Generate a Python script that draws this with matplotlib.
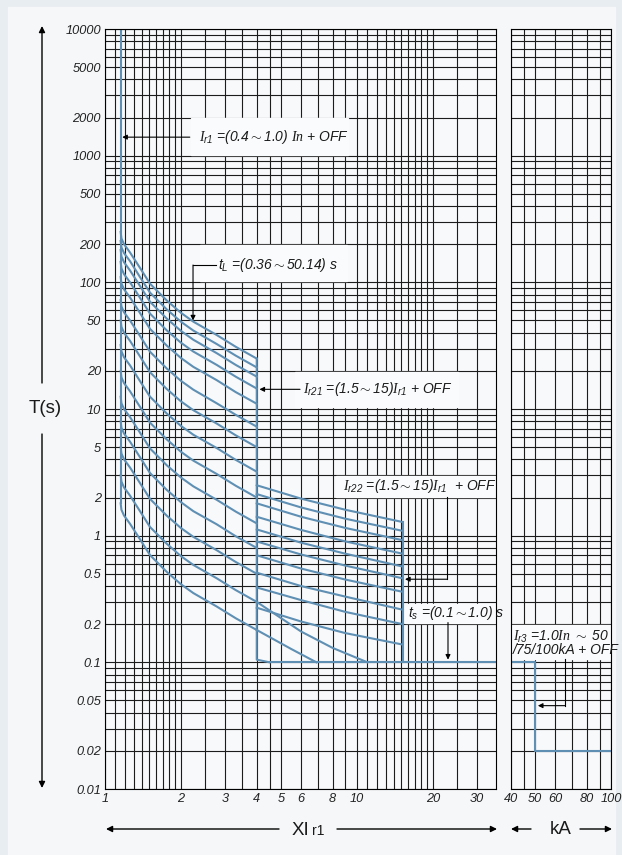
import matplotlib.pyplot as plt
from matplotlib import font_manager
from matplotlib.patches import Rectangle
from matplotlib.ticker import NullFormatter

installed = {f.name for f in font_manager.fontManager.ttflist}
SANS = 'Liberation Sans' if 'Liberation Sans' in installed else 'DejaVu Sans'
SERIF = 'Liberation Serif' if 'Liberation Serif' in installed else 'DejaVu Serif'

plt.rcParams['mathtext.fontset'] = 'custom'
plt.rcParams['mathtext.it'] = SERIF + ':italic'
plt.rcParams['mathtext.rm'] = SANS + ':italic'

BLUE = '#5f8fb3'
GRID = '#1c1c1c'

# axes ticks / grid
y_ticks = [0.01, 0.02, 0.05, 0.1, 0.2, 0.5, 1, 2, 5, 10, 20, 50, 100, 200, 500, 1000, 2000, 5000, 10000]
y_labels = ['0.01', '0.02', '0.05', '0.1', '0.2', '0.5', '1', '2', '5', '10', '20', '50',
            '100', '200', '500', '1000', '2000', '5000', '10000']
y_grid = [m * 10.0 ** e for e in range(-2, 4) for m in range(1, 10)] + [10000]
x_ticks = [1, 2, 3, 4, 5, 6, 8, 10, 20, 30]
x_grid = [1.0, 1.1, 1.2, 1.3, 1.4, 1.5, 1.6, 1.7, 1.8, 1.9, 2.0, 2.5, 3, 3.5, 4, 4.5,
          5, 6, 7, 8, 9, 10, 11, 12, 13, 14, 15, 16, 17, 18, 19, 20, 25, 30]
ka_ticks = [40, 50, 60, 80, 100]
ka_grid = [40, 45, 50, 60, 70, 80, 90, 100]

# Ir1 pickup line
ir1_x = [1.154, 1.154]
ir1_t = [10000, 1.8]

# long time delay curves (tL family)
lt_x = [1.154, 1.162, 1.19, 1.257, 1.377, 1.509, 1.757, 2.0, 2.242, 2.774, 3.3, 4.0]
lt_t = [
    [250, 222, 200, 172, 130, 97.5, 72, 57.5, 48.9, 38.4, 31, 25],
    [212, 189, 170, 147, 110, 82.9, 61.2, 48.9, 41.6, 32.6, 26.4, 21.3],
    [180, 160, 144, 124, 93.6, 70.2, 51.8, 41.4, 35.2, 27.6, 22.3, 18],
    [145, 129, 116, 100, 75.4, 56.6, 41.8, 33.4, 28.4, 22.3, 18, 14.5],
    [110, 97.9, 88, 75.9, 57.2, 42.9, 31.7, 25.3, 21.5, 16.9, 13.6, 11],
    [72.5, 64.5, 58, 50, 37.7, 28.3, 20.9, 16.7, 14.2, 11.1, 9.0, 7.25],
    [50, 44.5, 40, 34.5, 26, 19.5, 14.4, 11.5, 9.78, 7.68, 6.2, 5.0],
    [32, 28.5, 25.6, 22.1, 16.6, 12.5, 9.22, 7.36, 6.26, 4.92, 3.97, 3.2],
    [20, 17.8, 16, 13.8, 10.4, 7.8, 5.76, 4.6, 3.91, 3.07, 2.48, 2.0],
    [12.5, 11.1, 10, 8.63, 6.5, 4.88, 3.6, 2.88, 2.45, 1.92, 1.55, 1.25],
    [8.0, 7.12, 6.4, 5.52, 4.16, 3.12, 2.3, 1.84, 1.56, 1.23, 0.99, 0.8],
    [5.0, 4.45, 4.0, 3.45, 2.6, 1.95, 1.44, 1.15, 0.978, 0.768, 0.62, 0.5],
    [3.0, 2.67, 2.4, 2.07, 1.56, 1.17, 0.864, 0.69, 0.587, 0.461, 0.372, 0.3],
    [1.8, 1.6, 1.44, 1.24, 0.936, 0.702, 0.518, 0.414, 0.352, 0.276, 0.223, 0.18],
]
lt_tail_x = [[4, 6, 8, 11], [4, 5.5, 6.9]]
lt_tail_t = [[0.3, 0.175, 0.13, 0.1], [0.18, 0.127, 0.1]]

# Ir21 step
ir21_x = [4, 4, 4.5]
ir21_t = [25, 0.105, 0.1]

# short time curves between Ir21 and Ir22
st_x = [4, 6, 9, 15.2]
st_t = [
    [2.5, 1.96, 1.60, 1.28],
    [2.13, 1.67, 1.36, 1.09],
    [1.8, 1.41, 1.15, 0.92],
    [1.41, 1.11, 0.90, 0.72],
    [1.12, 0.88, 0.72, 0.57],
    [0.9, 0.71, 0.58, 0.46],
    [0.7, 0.55, 0.45, 0.36],
    [0.51, 0.40, 0.33, 0.26],
    [0.39, 0.31, 0.25, 0.20],
    [0.27, 0.21, 0.17, 0.138],
]

# Ir22 step and ts plateau
ir22_x = [15.2, 15.2]
ir22_t = [1.28, 0.1]
ts_x = [4.5, 40]
ts_t = [0.1, 0.1]

# instantaneous (kA panel)
ir3_x = [40, 50, 50, 100]
ir3_t = [0.1, 0.1, 0.02, 0.02]

fig = plt.figure(figsize=(6.22, 8.55), dpi=100)
fig.patch.set_facecolor('#e8edf1')

# background / decorations in pixel coordinates
bg = fig.add_axes([0, 0, 1, 1])
bg.set_xlim(0, 622)
bg.set_ylim(855, 0)
bg.axis('off')
bg.add_patch(Rectangle((8, 7), 607, 848, color='#f5f7f9', zorder=0))

ax = fig.add_axes([105 / 622, 1 - 789 / 855, 391 / 622, 760 / 855])
axk = fig.add_axes([510.7 / 622, 1 - 789 / 855, 100.8 / 622, 760 / 855])

for a, grid, ticks in ((ax, x_grid, x_ticks), (axk, ka_grid, ka_ticks)):
    a.set_xscale('log')
    a.set_yscale('log')
    a.set_ylim(0.01, 10000)
    a.set_facecolor('#f7f9fb')
    a.set_axisbelow(True)
    a.set_xticks(ticks, labels=[str(t) for t in ticks])
    a.set_xticks(grid, minor=True)
    a.set_yticks(y_ticks, labels=y_labels)
    a.set_yticks(y_grid, minor=True)
    a.xaxis.set_minor_formatter(NullFormatter())
    a.yaxis.set_minor_formatter(NullFormatter())
    a.tick_params(which='both', length=0, pad=3)
    a.grid(True, which='both', color=GRID, lw=0.8)
    for s in a.spines.values():
        s.set_color('black')
        s.set_linewidth(0.8)
ax.set_xlim(1, 35.6)
axk.set_xlim(40, 100)
axk.tick_params(labelleft=False)

for lab in ax.get_xticklabels() + ax.get_yticklabels() + axk.get_xticklabels():
    lab.set_fontfamily(SANS)
    lab.set_fontstyle('italic')
    lab.set_fontsize(9.2)
    lab.set_color('#222222')

# curves
kw = dict(color=BLUE, lw=1.5, solid_joinstyle='round', zorder=2)
ax.plot(ir1_x, ir1_t, **kw)
for t in lt_t:
    ax.plot(lt_x, t, **kw)
for xs, ts in zip(lt_tail_x, lt_tail_t):
    ax.plot(xs, ts, **kw)
ax.plot(ir21_x, ir21_t, **kw)
for t in st_t:
    ax.plot(st_x, t, **kw)
ax.plot(ir22_x, ir22_t, **kw)
ax.plot(ts_x, ts_t, **kw)
axk.plot(ir3_x, ir3_t, **kw)

# annotations
BOX = '#fafbfc'
tkw = dict(fontfamily=SANS, fontstyle='italic', fontsize=10, color='#1a1a1a',
           va='center', ha='left', zorder=4)
akw = dict(arrowstyle='-|>', color='black', lw=0.8, mutation_scale=7, shrinkA=0, shrinkB=0)


def box(a, x0, x1, y0, y1):
    a.add_patch(Rectangle((x0, y0), x1 - x0, y1 - y0, color=BOX, zorder=1))


def arrow(a, start, end):
    a.annotate('', xy=end, xytext=start, arrowprops=akw, zorder=4)


box(ax, 2.2, 9.2, 1010, 1980)
ax.text(2.36, 1400, r'$I_{\mathrm{r1}}$ =(0.4$\sim$1.0) $In$ + OFF', **tkw)
arrow(ax, (2.17, 1400), (1.17, 1400))

box(ax, 2.38, 9.15, 103, 196)
ax.text(2.8, 137, r'$\mathrm{t}_{\mathrm{L}}$ =(0.36$\sim$50.14) s', **tkw)
ax.plot([2.76, 2.235], [137, 137], color='black', lw=0.8, zorder=4)
arrow(ax, (2.235, 137), (2.235, 50))

box(ax, 5.7, 25.2, 10.3, 19.5)
ax.text(6.1, 14.3, r'$I_{\mathrm{r21}}$ =(1.5$\sim$15)$I_{\mathrm{r1}}$ + OFF', **tkw)
arrow(ax, (5.94, 14.3), (4.1, 14.3))

box(ax, 8.25, 36, 2.03, 2.95)
ax.text(8.8, 2.47, r'$I_{\mathrm{r22}}$ =(1.5$\sim$15)$I_{\mathrm{r1}}$  + OFF', **tkw)
ax.plot([22.7, 22.7], [2.03, 0.453], color='black', lw=0.8, zorder=4)
arrow(ax, (22.7, 0.453), (15.5, 0.453))

box(ax, 15.5, 36, 0.206, 0.288)
ax.text(15.9, 0.245, r'$\mathrm{t}_{\mathrm{s}}$ =(0.1$\sim$1.0) s', **tkw)
arrow(ax, (22.96, 0.206), (22.96, 0.105))

box(axk, 40, 100, 0.106, 0.198)
axk.text(40.8, 0.158, r'$I_{\mathrm{r3}}$ =1.0$In$ $\sim$ 50', **tkw)
axk.text(40.8, 0.124, '/75/100kA + OFF', **tkw)
axk.plot([65.7, 65.7], [0.106, 0.0455], color='black', lw=0.8, zorder=4)
arrow(axk, (65.7, 0.0455), (51.2, 0.0455))

# axis titles with arrows (pixel coordinates)
dkw = dict(arrowstyle='-|>', color='black', lw=1.0, mutation_scale=9, shrinkA=0, shrinkB=0)
bg.annotate('', xy=(42, 26), xytext=(42, 383), arrowprops=dkw)
bg.annotate('', xy=(42, 788), xytext=(42, 434), arrowprops=dkw)
bg.text(45, 408, 'T(s)', fontfamily=SANS, fontsize=13.5, ha='center', va='center', color='#1a1a1a')

bg.annotate('', xy=(106, 829), xytext=(279, 829), arrowprops=dkw)
bg.annotate('', xy=(497, 829), xytext=(337, 829), arrowprops=dkw)
bg.text(309, 835, 'XI', fontfamily=SANS, fontsize=13.5, ha='right', va='baseline', color='#1a1a1a')
bg.text(312, 835, 'r1', fontfamily=SANS, fontsize=10, ha='left', va='baseline', color='#1a1a1a')

bg.annotate('', xy=(511, 829), xytext=(531, 829), arrowprops=dkw)
bg.annotate('', xy=(612, 829), xytext=(580, 829), arrowprops=dkw)
bg.text(561, 829, 'kA', fontfamily=SANS, fontsize=13.5, ha='center', va='center', color='#1a1a1a')

fig.savefig('out.png', dpi=100, facecolor=fig.get_facecolor())
